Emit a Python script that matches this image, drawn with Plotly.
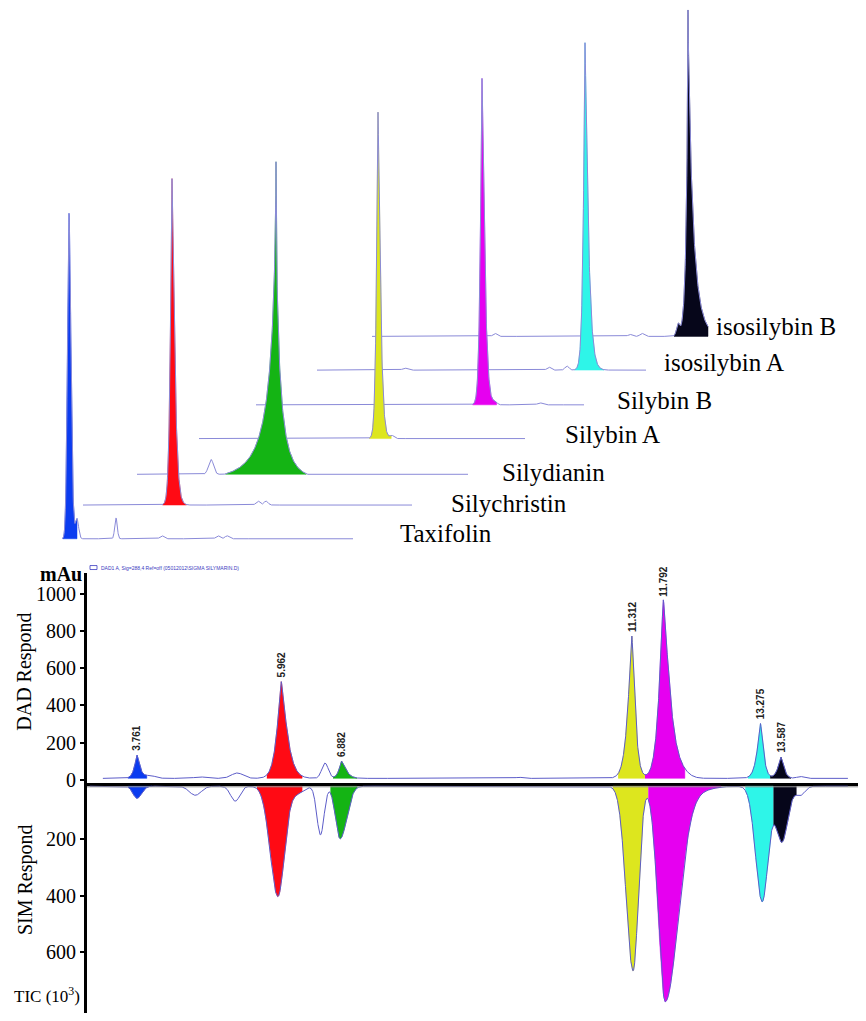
import numpy as np
import plotly.graph_objects as go

# ---------------- data: stacked chromatograms of the standards (top) ----------------
compounds = ["Taxifolin", "Silychristin", "Silydianin", "Silybin A",
             "Silybin B", "isosilybin A", "isosilybin B"]
std_peak_pos = [7, 89, 139, 179, 226, 268, 316]          # along each trace
std_peak_height = [328, 329, 315, 329, 329, 330, 329]
std_width_left = [1.5, 1.3, 2.0, 1.2, 1.3, 1.2, 0.8]
std_width_right = [1.9, 2.0, 1.2, 1.8, 2.0, 2.2, 2.3]
std_peak_shape = [1.8, 1.3, 0.65, 1.3, 1.3, 1.2, 0.9]
std_trace_length = [291, 329, 331, 326, 328, 329, 336]
std_minor_peaks = [
    [(15, 20, 1.6), (54, 21, 1.3), (100, 3, 2.0), (156, 3, 2.0), (165, 3, 2.0)],
    [(175, 4, 2.0), (183, 4, 2.0)],
    [(74, 15, 2.5)],
    [(193, 3, 2.0)],
    [(239, 3, 2.0), (284, 2, 2.5)],
    [(88, 2, 2.5), (232, 3, 2.0), (250, 4, 2.0)],
    [(123, 3, 2.0), (258, 2, 2.0), (270, 3, 2.0), (306, 11, 1.5)],
]

# ---------------- data: sample chromatograms (bottom) ----------------
dad_rt = [3.761, 5.962, 6.882, 11.312, 11.792, 13.275, 13.587]
dad_height = [125, 520, 93, 765, 957, 296, 115]
dad_width_left = [0.031, 0.051, 0.031, 0.048, 0.05, 0.041, 0.037]
dad_width_right = [0.034, 0.068, 0.051, 0.038, 0.075, 0.034, 0.034]
dad_fill_start = [3.62, 5.74, 6.75, 11.10, 11.51, 13.08, 13.42]
dad_fill_end = [3.91, 6.28, 7.12, 11.51, 12.12, 13.42, 13.74]
dad_minor = [(3.96, 15, 0.08), (4.72, 8, 0.08), (5.29, 29, 0.09), (6.63, 82, 0.05),
             (9.59, 6, 0.05), (12.05, 25, 0.12), (13.88, 10, 0.05)]
dad_baseline = 8
dad_span = (3.24, 14.61)

sim_rt = [3.76, 5.91, 6.86, 11.33, 11.82, 13.30, 13.60]
sim_depth = [43, 390, 186, 653, 762, 408, 197]
sim_sigma_left = [0.06, 0.116, 0.07, 0.105, 0.105, 0.10, 0.09]
sim_sigma_right = [0.07, 0.10, 0.10, 0.08, 0.20, 0.09, 0.09]
sim_fill_start = [3.62, 5.59, 6.71, 11.02, 11.56, 13.04, 13.47]
sim_fill_end = [3.99, 6.28, 7.12, 11.56, 12.67, 13.47, 13.82]
sim_minor = [(4.65, 32, 0.09), (5.26, 53, 0.07), (6.20, 25, 0.10), (6.56, 172, 0.055),
             (12.35, 12, 0.20), (13.88, 32, 0.07)]
sim_baseline = 12
sim_span = (3.04, 14.61)

dad_ticks = [0, 200, 400, 600, 800, 1000]
sim_ticks = [200, 400, 600]
legend_text = "DAD1 A, Sig=288,4 Ref=off (05012012\\SIGMA SILYMARIN.D)"

# ---------------- styles / layout positions (reference-pixel units) ----------------
peak_colors = ["#0b3cf0", "#ff0a14", "#14b414", "#dde61e", "#e600f0", "#2ef5e8", "#06061a"]
std_offset_x = [62, 83, 137, 199, 256, 317, 372]
std_baseline_px = [543, 509, 478, 442, 408, 373, 339]
std_label_px = [(398, 538), (449, 507), (500, 476), (563, 438), (615, 404), (662, 365), (714, 329)]
TOP_PX = 560
trace_line = "#8a8ad8"
bottom_line = "#5c5cc8"
SERIF = "Liberation Serif"
SANS = "Liberation Sans"
DAD_Q = 1.3

# page body margin compensation (8 px default body margin)
OFF = 8
FIG_W, FIG_H = 866 - OFF, 1021 - OFF


def paper_x(px):
    return (px - OFF) / FIG_W


def paper_y(py):
    return 1 - (py - OFF) / FIG_H


def gen_peak(x, c, h, wl, wr, q, cut=26.0):
    u = np.abs(np.where(x < c, (x - c) / wl, (x - c) / wr))
    fcut = np.exp(-0.5 * cut ** q)
    f = (np.exp(-0.5 * u ** q) - fcut) / (1 - fcut)
    return h * np.clip(f, 0, None)


def gauss(x, c, h, sl, sr):
    s = np.where(x < c, sl, sr)
    return h * np.exp(-0.5 * ((x - c) / s) ** 2)


fig = go.Figure()

# ---------------- top: waterfall of standards ----------------
for i in reversed(range(len(compounds))):
    xl = np.arange(0, std_trace_length[i] + 0.001, 0.2)
    main = gen_peak(xl, std_peak_pos[i], std_peak_height[i],
                    std_width_left[i], std_width_right[i], std_peak_shape[i])
    sig = main.copy()
    for (c, h, w) in std_minor_peaks[i]:
        sig += gauss(xl, c, h, w, w)
    base = TOP_PX - std_baseline_px[i]
    xs = std_offset_x[i] + xl
    ys = base + sig
    mask = main > 0.4
    fx = xs[mask]
    fy = ys[mask]
    fig.add_trace(go.Scatter(
        x=np.concatenate([fx, [fx[-1], fx[0]]]),
        y=np.concatenate([fy, [base, base]]),
        fill="toself", fillcolor=peak_colors[i], mode="lines",
        line=dict(width=0.5, color=peak_colors[i]), hoverinfo="skip",
        xaxis="x", yaxis="y"))
    fig.add_trace(go.Scatter(x=xs, y=ys, mode="lines",
                             line=dict(width=1, color=trace_line),
                             hoverinfo="skip", xaxis="x", yaxis="y"))

# ---------------- bottom: DAD (up) ----------------
t_dad = np.arange(dad_span[0], dad_span[1], 0.002)
dad_sig = np.full_like(t_dad, float(dad_baseline))
for k in range(len(dad_rt)):
    dad_sig += gen_peak(t_dad, dad_rt[k], dad_height[k],
                        dad_width_left[k], dad_width_right[k], DAD_Q)
for (c, h, s) in dad_minor:
    dad_sig += gauss(t_dad, c, h, s, s)

for k in range(len(dad_rt)):
    m = (t_dad >= dad_fill_start[k]) & (t_dad <= dad_fill_end[k])
    fx, fy = t_dad[m], dad_sig[m]
    fig.add_trace(go.Scatter(
        x=np.concatenate([fx, [fx[-1], fx[0]]]),
        y=np.concatenate([fy, [dad_baseline, dad_baseline]]),
        fill="toself", fillcolor=peak_colors[k], mode="lines",
        line=dict(width=0.5, color=peak_colors[k]), hoverinfo="skip",
        xaxis="x2", yaxis="y2"))
fig.add_trace(go.Scatter(x=t_dad, y=dad_sig, mode="lines",
                         line=dict(width=1, color=bottom_line),
                         hoverinfo="skip", xaxis="x2", yaxis="y2"))

# ---------------- bottom: SIM (down) ----------------
t_sim = np.arange(sim_span[0], sim_span[1], 0.002)
sim_sig = np.full_like(t_sim, float(sim_baseline))
for k in range(len(sim_rt)):
    sim_sig += gauss(t_sim, sim_rt[k], sim_depth[k], sim_sigma_left[k], sim_sigma_right[k])
for (c, h, s) in sim_minor:
    sim_sig += gauss(t_sim, c, h, s, s)

for k in range(len(sim_rt)):
    m = (t_sim >= sim_fill_start[k]) & (t_sim <= sim_fill_end[k])
    fx, fy = t_sim[m], sim_sig[m]
    fig.add_trace(go.Scatter(
        x=np.concatenate([fx, [fx[-1], fx[0]]]),
        y=np.concatenate([fy, [sim_baseline, sim_baseline]]),
        fill="toself", fillcolor=peak_colors[k], mode="lines",
        line=dict(width=0.5, color=peak_colors[k]), hoverinfo="skip",
        xaxis="x2", yaxis="y3"))
fig.add_trace(go.Scatter(x=t_sim, y=sim_sig, mode="lines",
                         line=dict(width=1, color=bottom_line),
                         hoverinfo="skip", xaxis="x2", yaxis="y3"))

# ---------------- annotations ----------------
ann = []
for i, name in enumerate(compounds):
    px, py = std_label_px[i]
    ann.append(dict(x=px, y=TOP_PX - py, xref="x", yref="y", text=name,
                    showarrow=False, xanchor="left", yanchor="middle",
                    font=dict(family=SERIF, size=25, color="black")))
for k in range(len(dad_rt)):
    ann.append(dict(x=dad_rt[k], y=dad_baseline + dad_height[k], xref="x2", yref="y2",
                    text=f"<b>{dad_rt[k]:.3f}</b>", textangle=-90, showarrow=False,
                    xanchor="center", yanchor="bottom", yshift=2,
                    font=dict(family=SANS, size=10, color="#222222")))
ann.append(dict(x=paper_x(25), y=paper_y(677), xref="paper", yref="paper", text="DAD Respond",
                textangle=-90, showarrow=False, xanchor="center", yanchor="middle",
                font=dict(family=SERIF, size=20, color="black")))
ann.append(dict(x=paper_x(25), y=paper_y(887), xref="paper", yref="paper", text="SIM Respond",
                textangle=-90, showarrow=False, xanchor="center", yanchor="middle",
                font=dict(family=SERIF, size=20, color="black")))
ann.append(dict(x=paper_x(84), y=paper_y(579), xref="paper", yref="paper", text="<b>mAu</b>",
                showarrow=False, xanchor="right", yanchor="middle",
                font=dict(family=SERIF, size=20, color="black")))
ann.append(dict(x=paper_x(82), y=paper_y(1003), xref="paper", yref="paper",
                text="TIC (10<sup>3</sup>)",
                showarrow=False, xanchor="right", yanchor="middle",
                font=dict(family=SERIF, size=17, color="black")))
ann.append(dict(x=paper_x(99), y=paper_y(572), xref="paper", yref="paper", text=legend_text,
                showarrow=False, xanchor="left", yanchor="middle",
                font=dict(family=SANS, size=5, color="#3a3ac0")))

shapes = [
    dict(type="rect", xref="paper", yref="paper", x0=paper_x(90), x1=paper_x(97),
         y0=paper_y(574), y1=paper_y(570), line=dict(color="#3a3ac0", width=0.8)),
    dict(type="line", xref="paper", yref="paper", x0=paper_x(87), x1=1,
         y0=paper_y(793), y1=paper_y(793), line=dict(color="#8a8a8a", width=1)),
]

axis_font = dict(family=SERIF, size=20, color="black")
fig.update_layout(
    width=FIG_W, height=FIG_H, margin=dict(l=0, r=0, t=0, b=0),
    paper_bgcolor="white", plot_bgcolor="white", showlegend=False,
    xaxis=dict(domain=[0, 1], range=[OFF, OFF + FIG_W], visible=False, anchor="y"),
    yaxis=dict(domain=[paper_y(TOP_PX), 1], range=[0, TOP_PX - OFF], visible=False, anchor="x"),
    xaxis2=dict(domain=[paper_x(87), 1], range=[2.998, 14.884], anchor="y2",
                showline=True, linewidth=3, linecolor="black", showticklabels=False,
                ticks="", showgrid=False, zeroline=False),
    yaxis2=dict(domain=[paper_y(789), paper_y(578)], range=[-16, 1109.3], anchor="x2",
                showline=True, linewidth=3, linecolor="black", tickvals=dad_ticks,
                ticks="outside", ticklen=4, tickwidth=2, tickcolor="black",
                tickfont=axis_font, showgrid=False, zeroline=False),
    yaxis3=dict(domain=[0, paper_y(789)], range=[(1021 - 789) / 0.285, 0], anchor="x2",
                showline=True, linewidth=3, linecolor="black", tickvals=sim_ticks,
                ticks="outside", ticklen=4, tickwidth=2, tickcolor="black",
                tickfont=axis_font, showgrid=False, zeroline=False),
    annotations=ann, shapes=shapes,
)

fig.write_html("out.html")
